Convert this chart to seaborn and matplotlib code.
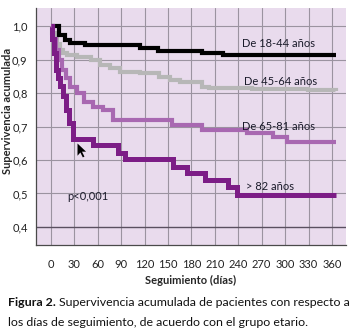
import matplotlib
matplotlib.use("Agg")
import matplotlib.pyplot as plt
import seaborn as sns
import pandas as pd
import numpy as np
from matplotlib.path import Path

# ---------------- data ----------------
groups = ["De 18-44 años", "De 45-64 años", "De 65-81 años", "> 82 años"]

days_18_44 = [0, 10, 18, 24, 44, 114, 137, 194, 220, 365]
surv_18_44 = [1.0, 0.973, 0.958, 0.949, 0.943, 0.934, 0.925, 0.919, 0.913, 0.913]

days_45_64 = [0, 2, 5, 8, 12, 16, 21, 34, 51, 63, 76, 89, 114, 139, 152, 165, 194, 203, 257, 329, 365]
surv_45_64 = [1.0, 0.98, 0.96, 0.945, 0.93, 0.92, 0.913, 0.907, 0.898, 0.884, 0.874, 0.863, 0.86,
              0.848, 0.839, 0.833, 0.818, 0.815, 0.812, 0.809, 0.806]

days_65_81 = [0, 3, 6, 10, 14, 19, 25, 34, 42, 54, 67, 80, 155, 194, 251, 285, 303, 365]
surv_65_81 = [1.0, 0.96, 0.928, 0.898, 0.87, 0.845, 0.818, 0.8, 0.773, 0.758, 0.749, 0.719,
              0.704, 0.69, 0.68, 0.669, 0.654, 0.654]

days_82 = [0, 2, 4, 6, 9, 12, 15, 19, 23, 28, 54, 86, 95, 156, 174, 197, 227, 238, 365]
surv_82 = [1.0, 0.96, 0.92, 0.87, 0.845, 0.82, 0.79, 0.75, 0.71, 0.663, 0.645, 0.621, 0.603,
           0.579, 0.561, 0.54, 0.519, 0.496, 0.496]

x_ticks = [0, 30, 60, 90, 120, 150, 180, 210, 240, 270, 300, 330, 360]
y_ticks = [0.4, 0.5, 0.6, 0.7, 0.8, 0.9, 1.0]
y_tick_labels = ["0,4", "0,5", "0,6", "0,7", "0,8", "0,9", "1,0"]

label_pos_days = [291, 294, 291, 281]
label_pos_surv = [0.947, 0.833, 0.699, 0.52]
p_text = "p<0,001"

colors = ["#000000", "#b7b7b7", "#a868b1", "#7c1d86"]
widths = [3.0, 3.0, 3.0, 3.6]

all_days = [days_18_44, days_45_64, days_65_81, days_82]
all_surv = [surv_18_44, surv_45_64, surv_65_81, surv_82]

frames = []
for g, d, s in zip(groups, all_days, all_surv):
    frames.append(pd.DataFrame({"dias": d, "surv": s, "grupo": g}))
df = pd.concat(frames, ignore_index=True)

# ---------------- figure ----------------
sns.set_theme(style="white")
plt.rcParams["font.family"] = ["Lato", "DejaVu Sans"]

fig = plt.figure(figsize=(3.54, 3.33), dpi=100)
ax = fig.add_axes([36 / 354, 1 - 245 / 333, 310 / 354, 237 / 333])
ax.set_facecolor("#e9dbed")

order = [1, 0, 2, 3]
for i in order:
    sub = df[df["grupo"] == groups[i]]
    sns.lineplot(data=sub, x="dias", y="surv", ax=ax, color=colors[i], linewidth=widths[i],
                 drawstyle="steps-post", estimator=None, sort=False, legend=False,
                 solid_joinstyle="miter", solid_capstyle="butt")

ax.set_xlim(-19, 378)
ax.set_ylim(0.346, 1.054)

ax.set_xticks([-19] + x_ticks)
ax.set_xticklabels([""] + [str(t) for t in x_ticks])
ax.set_yticks(y_ticks)
ax.set_yticklabels(y_tick_labels)

ax.grid(True, color="#9b93a0", linewidth=0.8)
ax.set_axisbelow(True)
xgl = ax.get_xgridlines()
xgl[0].set_visible(False)
for gl, t in zip(ax.get_ygridlines(), y_ticks):
    if abs(t - 0.4) < 1e-9:
        gl.set_color("#5a5060")
        gl.set_linewidth(1.0)

for side in ["top", "right"]:
    ax.spines[side].set_visible(False)
ax.spines["left"].set_color("#4a4a4a")
ax.spines["bottom"].set_color("#4a4a4a")
ax.spines["left"].set_linewidth(0.9)
ax.spines["bottom"].set_linewidth(0.9)

ax.tick_params(axis="both", which="major", direction="out", length=4, width=0.8,
               color="#4a4a4a", labelsize=8, labelcolor="#222222", pad=2)
ax.tick_params(axis="x", length=5, pad=5)

ax.set_xlabel("Seguimiento (días)", fontsize=8, fontweight="bold", labelpad=4)
ax.set_ylabel("Supervivencia acumulada", fontsize=8, fontweight="bold")
ax.yaxis.set_label_coords(-0.075, 0.565)

for g, dx, sy in zip(groups, label_pos_days, label_pos_surv):
    ax.text(dx, sy, g, fontsize=8, ha="center", va="center", color="#1a1a2a")
ax.text(48, 0.49, p_text, fontsize=8, ha="center", va="center", color="#1a1a2a")

# mouse cursor artifact
cursor = Path([(0, 0), (0, -15), (3.5, -11), (6.5, -17), (8.5, -16), (5.5, -10), (10.5, -10), (0, 0)],
              [Path.MOVETO] + [Path.LINETO] * 6 + [Path.CLOSEPOLY])
ax.plot([33], [0.652], marker=cursor, markersize=20, color="black", markeredgewidth=0)

# caption
cap_size = 8.9
fig.canvas.draw()
t1 = fig.text(8 / 354, 1 - 303 / 333, "Figura 2.", fontsize=cap_size, fontweight="bold",
              va="center", ha="left", color="#111111")
fig.canvas.draw()
bb = t1.get_window_extent()
x2 = (bb.x1 + 3) / fig.bbox.width
fig.text(x2, 1 - 303 / 333, "Supervivencia acumulada de pacientes con respecto a",
         fontsize=cap_size, va="center", ha="left", color="#111111")
fig.text(8 / 354, 1 - 322 / 333, "los días de seguimiento, de acuerdo con el grupo etario.",
         fontsize=cap_size, va="center", ha="left", color="#111111")

fig.savefig("out.png", dpi=100)
